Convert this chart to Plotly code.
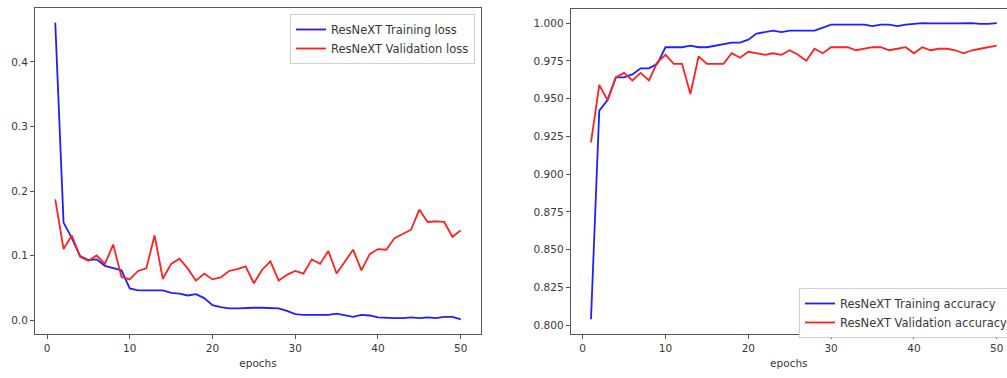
import plotly.graph_objects as go

# Per-epoch metrics for the ResNeXt run (epochs 1..50)
epochs = list(range(1, 51))

train_loss = [
    0.461, 0.151, 0.127, 0.099, 0.093, 0.094, 0.084, 0.080, 0.077, 0.049,
    0.046, 0.046, 0.046, 0.046, 0.042, 0.041, 0.038, 0.040, 0.034, 0.023,
    0.020, 0.018, 0.018, 0.019, 0.019, 0.019, 0.018, 0.018, 0.014, 0.009,
    0.008, 0.008, 0.008, 0.008, 0.010, 0.007, 0.005, 0.008, 0.007, 0.004,
    0.003, 0.003, 0.003, 0.004, 0.003, 0.004, 0.003, 0.005, 0.005, 0.001,
]

val_loss = [
    0.187, 0.110, 0.131, 0.098, 0.092, 0.100, 0.087, 0.117, 0.067, 0.063,
    0.076, 0.080, 0.131, 0.064, 0.087, 0.095, 0.080, 0.061, 0.072, 0.063,
    0.066, 0.076, 0.079, 0.083, 0.057, 0.078, 0.091, 0.061, 0.070, 0.076,
    0.072, 0.094, 0.087, 0.107, 0.072, 0.090, 0.109, 0.077, 0.102, 0.110,
    0.109, 0.127, 0.133, 0.140, 0.171, 0.152, 0.153, 0.152, 0.129, 0.139,
]

train_acc = [
    0.804, 0.942, 0.949, 0.964, 0.964, 0.966, 0.970, 0.970, 0.973, 0.984,
    0.984, 0.984, 0.985, 0.984, 0.984, 0.985, 0.986, 0.987, 0.987, 0.989,
    0.993, 0.994, 0.995, 0.994, 0.995, 0.995, 0.995, 0.995, 0.997, 0.999,
    0.999, 0.999, 0.999, 0.999, 0.998, 0.999, 0.999, 0.998, 0.999, 0.9996,
    1.000, 0.9998, 0.9996, 0.9998, 0.9998, 0.9998, 1.000, 0.9994, 0.9994, 1.000,
]

val_acc = [
    0.921, 0.959, 0.949, 0.964, 0.967, 0.962, 0.967, 0.962, 0.974, 0.979,
    0.973, 0.973, 0.953, 0.978, 0.973, 0.973, 0.973, 0.980, 0.977, 0.981,
    0.980, 0.979, 0.980, 0.979, 0.982, 0.979, 0.975, 0.983, 0.980, 0.984,
    0.984, 0.984, 0.982, 0.983, 0.984, 0.984, 0.982, 0.983, 0.984, 0.980,
    0.984, 0.982, 0.983, 0.983, 0.982, 0.980, 0.982, 0.983, 0.984, 0.985,
]

W, H = 1007, 378
FONT = "DejaVu Sans"
TEXT = "#383838"
FRAME = "#555555"
BLUE = "#1f1fff"
RED = "#ff2020"


def px_x(p):
    return p / W


def px_y(p):
    return (H - p) / H


fig = go.Figure()

fig.add_trace(go.Scatter(x=epochs, y=train_loss, mode="lines", name="ResNeXT Training loss",
                         line=dict(color=BLUE, width=1.8), xaxis="x", yaxis="y", legend="legend"))
fig.add_trace(go.Scatter(x=epochs, y=val_loss, mode="lines", name="ResNeXT Validation loss",
                         line=dict(color=RED, width=1.8), xaxis="x", yaxis="y", legend="legend"))
fig.add_trace(go.Scatter(x=epochs, y=train_acc, mode="lines", name="ResNeXT Training accuracy",
                         line=dict(color=BLUE, width=1.8), xaxis="x2", yaxis="y2", legend="legend2"))
fig.add_trace(go.Scatter(x=epochs, y=val_acc, mode="lines", name="ResNeXT Validation accuracy",
                         line=dict(color=RED, width=1.8), xaxis="x2", yaxis="y2", legend="legend2"))

axis_common = dict(
    showgrid=False, zeroline=False, showline=True, linecolor=FRAME, linewidth=1,
    ticks="outside", ticklen=4, tickwidth=1, tickcolor=FRAME,
    tickfont=dict(family=FONT, size=10.5, color=TEXT),
)
title_font = dict(family=FONT, size=10.5, color=TEXT)
legend_font = dict(family=FONT, size=11.5, color=TEXT)

fig.update_layout(
    width=W, height=H,
    margin=dict(l=0, r=0, t=0, b=0, autoexpand=False),
    paper_bgcolor="white", plot_bgcolor="white",
    font=dict(family=FONT, size=10.5, color=TEXT),
    xaxis=dict(**axis_common, domain=[px_x(35), px_x(481)], range=[-1.45, 52.45],
               tickvals=[0, 10, 20, 30, 40, 50], mirror=True, anchor="y",
               title=dict(text="epochs", standoff=7, font=title_font)),
    yaxis=dict(**axis_common, domain=[px_y(334), px_y(8)], range=[-0.0217, 0.4837],
               tickvals=[0.0, 0.1, 0.2, 0.3, 0.4], tickformat=".1f", mirror=True, anchor="x"),
    xaxis2=dict(**axis_common, domain=[px_x(570.7), 1.0], range=[-1.45, 51.24],
                tickvals=[0, 10, 20, 30, 40, 50], mirror=True, anchor="y2",
                title=dict(text="epochs", standoff=7, font=title_font)),
    yaxis2=dict(**axis_common, domain=[px_y(334), px_y(9)], range=[0.7942, 1.0093],
                tickvals=[0.800, 0.825, 0.850, 0.875, 0.900, 0.925, 0.950, 0.975, 1.000],
                tickformat=".3f", mirror=False, anchor="x2"),
    legend=dict(x=px_x(475), y=px_y(14), xanchor="right", yanchor="top",
                bgcolor="white", bordercolor="#d0d0d0", borderwidth=1,
                font=legend_font, tracegroupgap=0),
    legend2=dict(x=px_x(799), y=px_y(288), xanchor="left", yanchor="top",
                 bgcolor="white", bordercolor="#d0d0d0", borderwidth=1,
                 font=legend_font, tracegroupgap=0),
    showlegend=True,
)

fig.write_html("out.html")
